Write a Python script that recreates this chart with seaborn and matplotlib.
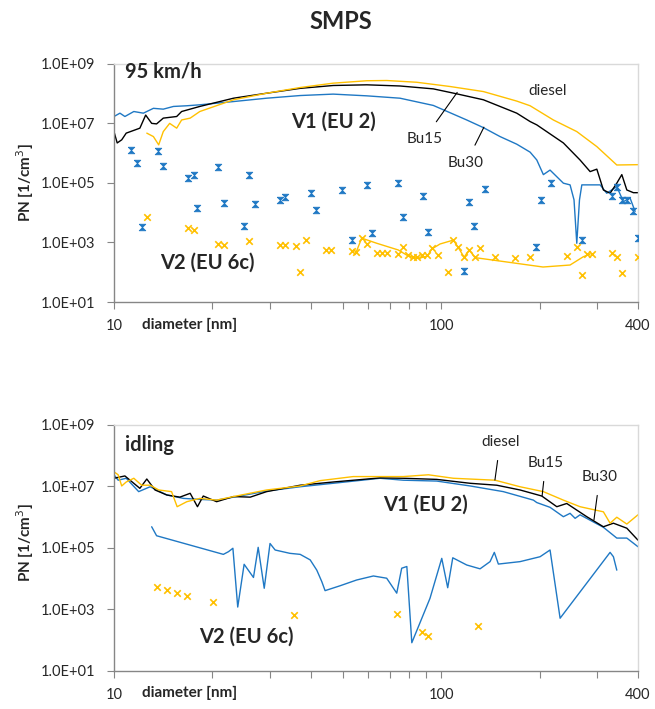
import numpy as np
import pandas as pd
import matplotlib
matplotlib.use("Agg")
import matplotlib.pyplot as plt
import seaborn as sns
from matplotlib.ticker import FixedLocator, FuncFormatter, NullFormatter

# cores do Excel
AZUL = '#1f78c4'
AMARELO = '#FFC000'
PRETO = '#000000'

# ---------------- 95 km/h : V1 (EU 2) ----------------
d95_bu30 = [10.0, 10.43, 10.8, 11.5, 12.3, 13.2, 14.15, 15.2, 16.7, 18.3, 23.2, 29.3, 37.1, 46.8,
            59.3, 74.9, 94.7, 119.8, 134.7, 151.5, 170.4, 187.2, 196.2, 205.5, 215.4, 236.6, 248, 255,
            260, 265, 269.4, 306.4, 321, 344.6, 361, 378.4, 392]
pn95_bu30 = [1.7e7, 2.2e7, 1.7e7, 2.5e7, 2.2e7, 3.2e7, 3.0e7, 3.7e7, 3.9e7, 4.2e7, 5.4e7, 7.0e7, 8.6e7, 9.6e7,
             8.4e7, 7.0e7, 4.0e7, 1.3e7, 7.2e6, 3.6e6, 2.0e6, 1.08e6, 5.9e5, 1.9e5, 2.7e5, 9.8e4, 8.6e4, 2.7e4,
             9.4e2, 2.7e4, 8.6e4, 8.6e4, 4.5e4, 7.5e4, 2.35e4, 3.1e4, 1.1e4]

d95_bu15 = [10.0, 10.23, 10.56, 10.9, 12.0, 12.5, 13.04, 13.5, 14.15, 15.55, 16.1, 18.3, 23.2, 29.3,
            37.1, 46.8, 59.3, 74.9, 94.7, 111.7, 134.7, 170.4, 187.2, 196.2, 236.6, 266, 285.6, 299.4,
            313.6, 328.7, 344.6, 357, 369.8, 387.3, 400]
pn95_bu15 = [5.3e6, 2.2e6, 2.8e6, 4.7e6, 6.9e6, 1.9e7, 1.0e7, 9.6e6, 1.5e7, 1.7e7, 2.5e7, 3.7e7, 7.0e7, 1.03e8,
             1.5e8, 1.87e8, 1.97e8, 1.8e8, 1.44e8, 9.8e7, 6.2e7, 2.2e7, 1.15e7, 8.9e6, 2.2e6, 5.9e5, 2.4e5, 2.9e5,
             5.8e4, 4.5e4, 9.8e4, 1.9e5, 5.8e4, 4.7e4, 4.7e4]

d95_diesel = [12.6, 13.2, 13.7, 14.15, 14.8, 15.55, 16.1, 17.1, 18.3, 23.2, 29.3, 37.1, 46.8, 59.3,
              68.2, 84.3, 106.5, 134.7, 170.4, 187.2, 220.5, 260, 299.4, 344.6, 400]
pn95_diesel = [4.7e6, 3.6e6, 1.9e6, 5.3e6, 1.0e7, 6.9e6, 1.3e7, 1.5e7, 2.5e7, 6.2e7, 1.03e8, 1.6e8, 2.24e8, 2.7e8,
               2.75e8, 2.4e8, 1.73e8, 1.17e8, 5.6e7, 3.9e7, 1.3e7, 5.3e6, 1.66e6, 4.0e5, 4.1e5]

# ---------------- 95 km/h : V2 (EU 6c) ----------------
d95_v2_bu30 = [11.3, 11.8, 12.2, 13.6, 14.1, 16.8, 17.6, 18.0, 20.8, 21.7, 25.0, 25.9, 27.0, 32.2,
               33.3, 40.0, 41.5, 49.9, 53.6, 59.3, 61.4, 73.7, 76.4, 88.3, 91.0, 117.6, 121.5, 126.4,
               136.0, 194.8, 201.8, 216.6, 270, 334, 346, 358, 371, 386, 400]
pn95_v2_bu30 = [1.29e6, 4.5e5, 3.4e3, 1.2e6, 3.8e5, 1.5e5, 1.9e5, 1.45e4, 3.5e5, 2.2e4, 3.7e3, 1.9e5, 2.0e4, 2.75e4,
                3.3e4, 4.5e4, 1.24e4, 5.7e4, 1.2e3, 8.6e4, 2.1e3, 1.0e5, 7.0e3, 3.5e4, 2.3e3, 1.1e2, 2.35e4, 3.7e3,
                6.1e4, 7.2e2, 2.7e4, 9.8e4, 1.2e3, 3.7e4, 7.2e4, 2.6e4, 2.7e4, 1.15e4, 1.4e3]

d95_v2_diesel = [12.6, 16.8, 17.6, 20.8, 21.7, 25.9, 32.2, 33.3, 35.9, 37.1, 38.6, 44.4, 46.0, 53.6,
                 55, 57.2, 59.3, 63.6, 65.9, 68.2, 73.9, 76.4, 79.4, 81.8, 84.3, 87.3, 90.4, 93.9,
                 98.1, 105.3, 109, 113, 117.6, 122, 127, 131.3, 146, 168.4, 187.2, 242.3, 260, 270,
                 280, 289, 334, 346, 358, 400]
pn95_v2_diesel = [7.4e3, 3.0e3, 2.6e3, 8.9e2, 8.2e2, 1.1e3, 8.2e2, 8.2e2, 7.6e2, 1.04e2, 1.2e3, 5.6e2, 5.6e2, 5.0e2,
                  4.7e2, 1.4e3, 8.9e2, 4.3e2, 4.3e2, 4.3e2, 4.0e2, 7.1e2, 3.7e2, 3.3e2, 3.2e2, 3.7e2, 3.7e2, 6.3e2,
                  3.7e2, 1.0e2, 1.2e3, 7.1e2, 3.3e2, 5.6e2, 3.2e2, 6.4e2, 3.3e2, 3.1e2, 3.2e2, 3.6e2, 6.9e2, 79,
                  4.1e2, 4.1e2, 4.3e2, 3.3e2, 97, 3.2e2]

# linha suavizada (diesel V2)
d95_v2_linha = [55, 57.2, 63.6, 74, 79.4, 85.2, 90.8, 93.7, 99.3, 109, 113, 117.6, 122, 127,
                154.8, 205, 248, 272, 285.6]
pn95_v2_linha = [4.7e2, 1.4e3, 9.4e2, 5.6e2, 3.5e2, 2.9e2, 3.5e2, 6.05e2, 8.9e2, 1.2e3, 6.7e2, 3.2e2, 5.6e2, 3.1e2,
                 2.3e2, 1.5e2, 1.75e2, 3.3e2, 4.1e2]

# ---------------- idling : V1 (EU 2) ----------------
did_diesel = [10.0, 10.3, 10.56, 10.9, 11.5, 12.15, 12.9, 13.7, 15.0, 15.6, 16.7, 18.3, 20.6, 23.2,
              29.3, 37.1, 42.7, 53.9, 76.7, 91.5, 109, 146.3, 174.4, 205.5, 236.6, 266, 313.6, 328.7,
              344.6, 369.8, 400]
pnid_diesel = [3.0e7, 2.4e7, 1.04e7, 1.4e7, 1.85e7, 1.1e7, 1.1e7, 7.7e6, 6.8e6, 2.2e6, 3.2e6, 4.1e6, 3.6e6, 4.7e6,
               7.7e6, 1.04e7, 1.55e7, 2.1e7, 2.1e7, 2.4e7, 1.85e7, 1.6e7, 9.8e6, 6.8e6, 3.6e6, 2.2e6, 1.5e6, 6.4e5,
               1.0e6, 6.0e5, 1.2e6]

did_bu15 = [10.0, 10.8, 12.0, 12.6, 13.35, 14.5, 15.9, 17.1, 18.0, 18.75, 20.6, 23.2, 26.1, 29.3,
            37.1, 46.8, 65.1, 76.7, 97, 122.7, 148, 174.4, 203.2, 225.9, 242.3, 279, 313.6, 336.5,
            369.8, 400]
pnid_bu15 = [1.85e7, 2.2e7, 8.7e6, 1.75e7, 7.7e6, 5.3e6, 4.5e6, 6.0e6, 2.2e6, 4.9e6, 3.2e6, 4.7e6, 4.5e6, 6.8e6,
             1.1e7, 1.4e7, 1.9e7, 1.85e7, 1.7e7, 1.27e7, 1.1e7, 7.7e6, 4.9e6, 2.2e6, 2.8e6, 1.04e6, 4.9e5, 6.4e5,
             4.4e5, 1.8e5]

did_bu30 = [10.0, 10.3, 10.9, 11.9, 12.9, 14.5, 16.3, 18.3, 20.6, 23.2, 29.3, 37.1, 46.8, 65.1,
            76.7, 97, 122.7, 155, 191.6, 196.2, 215.4, 236.6, 248, 257, 266, 313.6, 344.6, 369.8, 400]
pnid_bu30 = [2.4e7, 1.6e7, 1.85e7, 6.8e6, 9.8e6, 5.3e6, 4.1e6, 3.8e6, 3.6e6, 4.5e6, 7.1e6, 9.8e6, 1.27e7, 1.85e7,
             1.6e7, 1.5e7, 1.04e7, 6.8e6, 3.6e6, 3.0e6, 2.1e6, 1.04e6, 1.34e6, 9.2e5, 1.2e6, 4.7e5, 2.1e5, 2.1e5,
             1.1e5]

# ---------------- idling : V2 (EU 6c) ----------------
did_v2_bu30 = [13.04, 13.5, 21.6, 22.4, 23.1, 23.9, 25.0, 26.7, 27.6, 28.8, 30.0, 31.1, 34.5, 37.1,
               39.8, 41.7, 43.2, 44.2, 49.1, 55.2, 62.1, 68.2, 73.2, 75.8, 78.6, 81.4, 92.5, 100.5,
               104.8, 108.6, 119.8, 131.6, 141.2, 145.5, 149.7, 174.4, 200.8, 215.4, 231.2, 328.7, 336.5,
               344.6]
pnid_v2_bu30 = [4.9e5, 2.5e5, 6.2e4, 7.6e4, 9.8e4, 1.2e3, 2.95e4, 1.1e4, 1.05e5, 4.9e3, 1.4e5, 8.6e4, 6.7e4, 6.2e4,
                4.1e4, 1.9e4, 8.0e3, 4.1e3, 5.9e3, 9.1e3, 1.23e4, 1.04e4, 3.4e3, 2.2e4, 2.5e4, 83, 2.3e3, 4.6e4,
                5.1e3, 4.8e4, 2.8e4, 2.1e4, 3.6e4, 7.2e4, 3.0e4, 3.6e4, 5.2e4, 8.6e4, 5.2e2, 7.2e4, 5.2e4,
                1.9e4]

did_v2_diesel = [13.5, 14.5, 15.55, 16.7, 20.1, 35.6, 73.2, 87.7, 91.0, 130]
pnid_v2_diesel = [5.5e3, 4.2e3, 3.4e3, 2.75e3, 1.8e3, 6.5e2, 7.1e2, 1.9e2, 1.4e2, 3.0e2]

# rótulos dos eixos
yticks = [1e1, 1e3, 1e5, 1e7, 1e9]
xticks_maiores = [10, 100, 400]
xticks_menores = [20, 30, 40, 50, 60, 70, 80, 90, 200, 300]

# marcador "ampulheta" (como no Excel)
AMPULHETA = [(-1, 1), (1, 1), (-1, -1), (1, -1), (-1, 1)]

sns.set_style("white")
plt.rcParams['font.family'] = ['Lato', 'DejaVu Sans']

fig = plt.figure(figsize=(6.55, 7.09), dpi=100)
ax1 = fig.add_axes([0.174, 0.574, 0.800, 0.336])
ax2 = fig.add_axes([0.174, 0.0536, 0.800, 0.347])


def linha(ax, d, pn, cor, lw=1.0):
    sns.lineplot(x=d, y=pn, ax=ax, color=cor, lw=lw, sort=False, estimator=None, legend=False)


def formatar(ax):
    ax.set_xscale('log')
    ax.set_yscale('log')
    ax.set_xlim(10, 400)
    ax.set_ylim(1e1, 1e9)
    ax.yaxis.set_major_locator(FixedLocator(yticks))
    ax.yaxis.set_minor_locator(FixedLocator([]))
    ax.yaxis.set_major_formatter(FuncFormatter(lambda v, p: f"{v:.1E}"))
    ax.xaxis.set_major_locator(FixedLocator(xticks_maiores))
    ax.xaxis.set_minor_locator(FixedLocator(xticks_menores))
    ax.xaxis.set_major_formatter(FuncFormatter(lambda v, p: f"{v:g}"))
    ax.xaxis.set_minor_formatter(NullFormatter())
    ax.tick_params(axis='y', which='major', direction='out', length=5, width=0.8,
                   color='#868686', labelsize=10.5, labelcolor='#262626', pad=8.5, left=True)
    ax.tick_params(axis='x', which='both', direction='out', length=5, width=0.8,
                   color='#868686', labelsize=10.5, labelcolor='#262626', pad=7.5, bottom=True)
    for lado in ['left', 'bottom']:
        ax.spines[lado].set_color('#868686')
        ax.spines[lado].set_linewidth(1.0)
    for lado in ['top', 'right']:
        ax.spines[lado].set_color('#d9d9d9')
        ax.spines[lado].set_linewidth(1.0)
    ax.set_xlabel('')
    ax.set_ylabel('')
    ax.grid(False)


for ax in (ax1, ax2):
    formatar(ax)

# ---- painel superior ----
linha(ax1, d95_bu30, pn95_bu30, AZUL)
linha(ax1, d95_bu15, pn95_bu15, PRETO)
linha(ax1, d95_diesel, pn95_diesel, AMARELO)
linha(ax1, d95_v2_linha, pn95_v2_linha, AMARELO)
sns.scatterplot(x=d95_v2_bu30, y=pn95_v2_bu30, ax=ax1, marker=AMPULHETA, s=22,
                color=AZUL, edgecolor=AZUL, linewidth=0.6, zorder=3)
sns.scatterplot(x=d95_v2_diesel, y=pn95_v2_diesel, ax=ax1, marker='x', s=22,
                color=AMARELO, linewidth=1.2, zorder=3)
formatar(ax1)

# ---- painel inferior ----
linha(ax2, did_bu30, pnid_bu30, AZUL)
linha(ax2, did_bu15, pnid_bu15, PRETO)
linha(ax2, did_diesel, pnid_diesel, AMARELO)
linha(ax2, did_v2_bu30, pnid_v2_bu30, AZUL)
sns.scatterplot(x=did_v2_diesel, y=pnid_v2_diesel, ax=ax2, marker='x', s=22,
                color=AMARELO, linewidth=1.2, zorder=3)
formatar(ax2)

NEG = dict(fontsize=14.5, fontweight='bold', va='center')
LEG = dict(fontsize=11, ha='center', va='center')
SETA = dict(arrowstyle='-', color='black', lw=0.8, shrinkA=6, shrinkB=0)

# textos do painel superior
ax1.text(0.021, 0.966, '95 km/h', transform=ax1.transAxes, ha='left', **NEG)
ax1.text(0.418, 0.756, 'V1 (EU 2)', transform=ax1.transAxes, ha='center', **NEG)
ax1.text(0.179, 0.164, 'V2 (EU 6c)', transform=ax1.transAxes, ha='center', **NEG)
ax1.text(0.828, 0.887, 'diesel', transform=ax1.transAxes, **LEG)
ax1.annotate('Bu15', xy=(0.655, 0.880), xytext=(0.592, 0.685), xycoords='axes fraction',
             textcoords='axes fraction', arrowprops=SETA, **LEG)
ax1.annotate('Bu30', xy=(0.706, 0.734), xytext=(0.672, 0.584), xycoords='axes fraction',
             textcoords='axes fraction', arrowprops=SETA, **LEG)

# textos do painel inferior
ax2.text(0.021, 0.919, 'idling', transform=ax2.transAxes, ha='left', **NEG)
ax2.text(0.595, 0.675, 'V1 (EU 2)', transform=ax2.transAxes, ha='center', **NEG)
ax2.text(0.252, 0.138, 'V2 (EU 6c)', transform=ax2.transAxes, ha='center', **NEG)
ax2.annotate('diesel', xy=(0.727, 0.776), xytext=(0.737, 0.931), xycoords='axes fraction',
             textcoords='axes fraction', arrowprops=SETA, **LEG)
ax2.annotate('Bu15', xy=(0.817, 0.711), xytext=(0.824, 0.846), xycoords='axes fraction',
             textcoords='axes fraction', arrowprops=SETA, **LEG)
ax2.annotate('Bu30', xy=(0.916, 0.614), xytext=(0.927, 0.789), xycoords='axes fraction',
             textcoords='axes fraction', arrowprops=SETA, **LEG)

# rótulo do eixo x ao lado do "10"
ax1.text(0.053, -0.097, 'diameter [nm]', transform=ax1.transAxes, fontsize=11,
         fontweight='bold', ha='left', va='center')
ax2.text(0.053, -0.089, 'diameter [nm]', transform=ax2.transAxes, fontsize=11,
         fontweight='bold', ha='left', va='center')

# rótulos do eixo y
fig.text(0.038, 0.742, 'PN [1/cm$^3$]', rotation=90, fontsize=11, fontweight='bold',
         ha='center', va='center')
fig.text(0.038, 0.234, 'PN [1/cm$^3$]', rotation=90, fontsize=11, fontweight='bold',
         ha='center', va='center')

fig.text(0.52, 0.970, 'SMPS', fontsize=17, fontweight='bold', ha='center', va='center')

fig.savefig('out.png', dpi=100)
